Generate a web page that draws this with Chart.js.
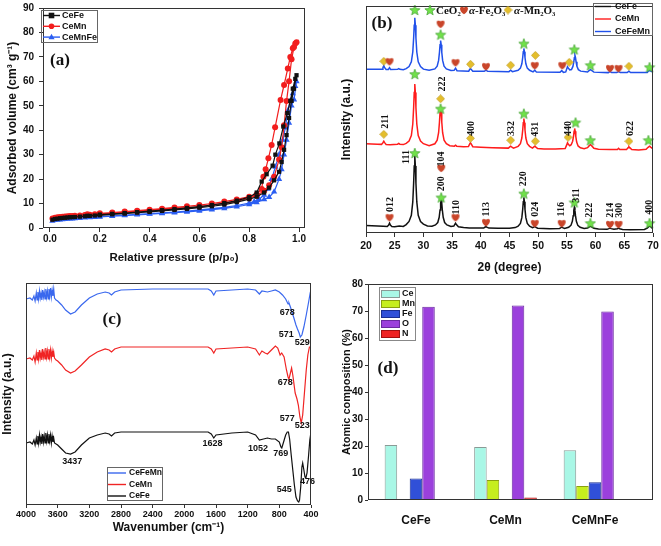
<!DOCTYPE html>
<html>
<head>
<meta charset="utf-8">
<script src="https://cdn.jsdelivr.net/npm/chart.js@4/dist/chart.umd.min.js"></script>
<style>
html, body { margin: 0; padding: 0; background: #fff; }
#wrap { position: relative; width: 661px; height: 546px; overflow: hidden; }
canvas { position: absolute; }
</style>
</head>
<body>
<div id="wrap">
  <canvas id="chartA" width="330" height="270" style="left:0px;top:0px"></canvas>
  <canvas id="chartB" width="331" height="282" style="left:330px;top:0px"></canvas>
  <canvas id="chartC" width="330" height="276" style="left:0px;top:270px"></canvas>
  <canvas id="chartD" width="331" height="276" style="left:330px;top:270px"></canvas>
</div>
<script>
// ---------- (a) N2 isotherms: adsorption branch, then desorption branch
const pTicks = [0, 0.2, 0.4, 0.6, 0.8, 1.0];
const ceFeP = [0.01,0.02,0.03,0.04,0.05,0.06,0.07,0.08,0.09,0.10,0.12,0.14,0.16,0.18,0.20,0.25,0.30,0.35,0.40,0.45,0.50,0.55,0.60,0.65,0.70,0.75,0.80,0.83,0.86,0.88,0.90,0.92,0.93,0.94,0.95,0.96,0.97,0.98,0.99,
  0.985,0.975,0.965,0.953,0.937,0.921,0.905,0.894,0.87,0.85,0.83,0.80,0.75,0.70,0.65,0.60,0.55,0.50,0.45,0.40,0.35,0.30,0.25,0.20,0.15];
const ceFeV = [3.4,3.7,3.8,4.0,4.1,4.2,4.3,4.4,4.45,4.5,4.65,4.8,4.95,5.1,5.2,5.6,5.9,6.3,6.6,7.0,7.4,7.8,8.3,8.9,9.6,10.6,11.8,12.8,14.5,16.5,19.5,23,27,32,38,45,52,57,62.5,
  61,57,52,47,41.5,34.6,30,25.5,22,19,14.5,12.6,11.2,10.2,9.4,8.8,8.2,7.7,7.3,6.9,6.5,6.1,5.8,5.5,5.0];
const ceMnP = [0.01,0.02,0.03,0.04,0.05,0.06,0.07,0.08,0.09,0.10,0.12,0.14,0.16,0.18,0.20,0.25,0.30,0.35,0.40,0.45,0.50,0.55,0.60,0.65,0.70,0.75,0.80,0.83,0.86,0.88,0.90,0.92,0.93,0.94,0.95,0.96,0.97,0.98,0.99,
  0.985,0.975,0.965,0.955,0.94,0.926,0.904,0.89,0.877,0.866,0.857,0.85,0.83,0.80,0.75,0.70,0.65,0.60,0.55,0.50,0.45,0.40,0.35,0.30,0.25,0.20,0.15];
const ceMnV = [3.9,4.2,4.35,4.5,4.6,4.7,4.8,4.9,4.95,5.0,5.15,5.3,5.45,5.6,5.7,6.1,6.4,6.8,7.1,7.5,7.9,8.3,8.8,9.4,10.1,11.0,12.2,13.3,15.2,17.5,21,28,33,42,52,60,69,74,76,
  75.5,73.5,70,65.3,58.5,52.4,41.2,34,28.5,24,21,16,13.8,12.8,11.7,10.8,10.0,9.4,8.9,8.4,7.9,7.5,7.1,6.7,6.3,6.0,5.6];
const ceMnFeP = [0.01,0.02,0.03,0.04,0.05,0.06,0.07,0.08,0.09,0.10,0.12,0.14,0.16,0.18,0.20,0.25,0.30,0.35,0.40,0.45,0.50,0.55,0.60,0.65,0.70,0.75,0.80,0.83,0.86,0.88,0.90,0.92,0.93,0.94,0.95,0.96,0.97,0.98,0.99,
  0.985,0.975,0.965,0.955,0.945,0.935,0.92,0.905,0.89,0.875,0.86,0.84,0.82,0.80,0.75,0.70,0.65,0.60,0.55,0.50,0.45,0.40,0.35,0.30,0.25,0.20,0.15];
const ceMnFeV = [2.9,3.2,3.3,3.4,3.5,3.6,3.7,3.8,3.85,3.9,4.05,4.2,4.3,4.4,4.5,4.8,5.1,5.4,5.7,6.0,6.3,6.6,7.0,7.5,8.0,8.7,9.6,10.5,11.7,12.6,14.8,20,24,30,36,43,50,52.5,60,
  58,55,52,48,41,36,30,25,20,16,13.5,11.8,10.8,10.2,9.2,8.5,7.9,7.4,6.9,6.5,6.2,5.9,5.6,5.3,5.0,4.7,4.4];

// ---------- (b) XRD patterns, [2theta, intensity + stacking offset]
const xrdCeFe = [[20,7.5],[21,7.3],[22,7],[23,6.8],[23.7,6.6],[23.95,8],[24.1,10],[24.25,8],[24.5,6.6],[25,6.4],[25.8,7],[26.5,6.6],[27.0,8.5],[27.5,11.7],[27.9,18],[28.15,31.5],[28.3,50.5],[28.4,68],[28.5,78],[28.6,68],[28.7,50.5],[28.85,31.5],[29.1,18],[29.5,11.7],[30.0,9],[30.7,7.2],[31.5,6.8],[32.1,8.2],[32.5,10.6],[32.75,15.9],[32.9,23.3],[33.0,30.2],[33.1,34],[33.2,30.2],[33.3,23.3],[33.45,15.9],[33.7,10.6],[34.1,8.2],[34.8,6.6],[35.3,7],[35.5,9],[35.6,10],[35.75,8.5],[36.1,6.3],[37,5.5],[38,5],[40.5,5],[40.75,6],[40.9,6.5],[41.05,6],[41.4,5],[43,4.8],[45,4.8],[46.0,5.5],[46.5,6.9],[46.9,9.7],[47.15,15.5],[47.3,23.9],[47.4,31.7],[47.5,36],[47.6,31.7],[47.7,23.9],[47.85,15.5],[48.1,9.7],[48.5,6.9],[49.0,5.3],[49.25,6],[49.4,6.8],[49.55,6],[49.9,4.8],[52,4.4],[53.7,4.5],[53.95,5.5],[54.1,6.2],[54.25,5.5],[54.6,4.6],[55.3,5.8],[55.7,7.7],[55.95,11.8],[56.1,17.6],[56.2,23],[56.3,26],[56.4,23],[56.5,17.6],[56.65,11.8],[56.9,7.7],[57.3,5.8],[58.0,4.6],[58.6,5],[58.9,6.3],[59.1,7],[59.3,6.3],[59.7,4.8],[60.5,4],[62,3.7],[62.3,4.4],[62.5,5],[62.7,4.4],[63.2,3.8],[63.8,4.3],[64.0,5],[64.2,4.3],[64.7,3.6],[66,3.4],[68.5,3.6],[69.0,5],[69.3,6.7],[69.5,7],[69.75,5.5],[70,4.5]];
const xrdCeMn = [[20,90.5],[21,90.3],[22,90],[22.7,89.8],[22.95,91.5],[23.1,93],[23.25,91.5],[23.5,89.7],[24.2,89.5],[25.5,90],[25.7,90.8],[25.9,90],[26.5,89.6],[27.0,90.8],[27.5,93.2],[27.9,98.7],[28.15,110.4],[28.3,127],[28.4,142.4],[28.5,151],[28.6,142.4],[28.7,127],[28.85,110.4],[29.1,98.7],[29.5,93.2],[30,90.5],[31,88.5],[32,90.4],[32.4,94],[32.65,101.6],[32.8,112.4],[32.9,122.4],[33.0,128],[33.1,122.4],[33.2,112.4],[33.35,101.6],[33.6,94],[34.0,90.4],[34.6,88.5],[35.4,88],[35.6,89],[35.8,88],[37,87.5],[37.85,87.6],[38.05,90],[38.2,91.5],[38.35,90],[38.6,87.4],[40,87],[42,86.5],[44.8,86],[45.05,87.3],[45.2,88],[45.35,87.3],[45.7,86],[46.5,87.8],[46.9,90.5],[47.15,96.2],[47.3,104.3],[47.4,111.8],[47.5,116],[47.6,111.8],[47.7,104.3],[47.85,96.2],[48.1,90.5],[48.5,87.8],[49.0,86],[49.25,87.3],[49.4,88],[49.55,87.3],[49.9,85.5],[51,85],[53,85],[54.7,85.5],[54.95,89],[55.1,91.5],[55.25,90],[55.5,88.5],[55.75,89.5],[56.0,93],[56.15,97.8],[56.25,103],[56.35,106],[56.45,103],[56.55,97.8],[56.7,92.1],[56.95,88.2],[57.35,86.3],[58.0,85.3],[58.6,86.5],[58.9,88.5],[59.1,89.5],[59.3,88.5],[59.7,85.8],[60.5,84.8],[62.5,84.5],[63.8,84.6],[64.0,85.8],[64.2,84.6],[65.4,84.6],[65.65,86.5],[65.8,87.5],[65.95,86.5],[66.3,84.5],[67.5,84.2],[68.8,84.8],[69.15,86.8],[69.4,88],[69.65,86.8],[70,85.3]];
const xrdCeFeMn = [[20,166],[21,166],[22,165.8],[22.8,165.8],[22.95,167.5],[23.1,169.5],[23.25,167.5],[23.5,165.7],[23.9,165.7],[24.1,167.5],[24.3,165.6],[25.5,165.8],[25.7,166.6],[25.9,165.8],[26.5,165.5],[27.0,166.5],[27.5,168.7],[27.9,173.4],[28.15,183.4],[28.3,197.5],[28.4,210.6],[28.5,218],[28.6,210.6],[28.7,197.5],[28.85,183.4],[29.1,173.4],[29.5,168.7],[30,166],[31,164.8],[32,166.3],[32.4,169.1],[32.65,174.9],[32.8,183.1],[32.9,190.7],[33.0,195],[33.1,190.7],[33.2,183.1],[33.35,174.9],[33.6,169.1],[34,166.3],[34.8,164.6],[35.35,164.8],[35.6,167],[35.85,164.5],[37.9,164],[38.05,165.6],[38.2,166.5],[38.35,165.6],[38.6,164],[40.6,163.8],[40.9,165],[41.2,163.8],[44.9,163.5],[45.2,165],[45.5,163.5],[46.5,164.9],[46.9,167],[47.15,171.5],[47.3,177.8],[47.4,183.7],[47.5,187],[47.6,183.7],[47.7,177.8],[47.85,171.5],[48.1,167],[48.5,164.9],[49.1,163.2],[49.4,165],[49.7,163],[53.8,162.8],[54.1,164.5],[54.4,162.8],[54.8,163.2],[54.95,166],[55.1,168.5],[55.25,167],[55.5,165.3],[55.8,165.5],[56.05,168.8],[56.2,173.4],[56.3,177.6],[56.4,180],[56.5,177.6],[56.6,173.4],[56.75,168.8],[57.0,165.5],[57.4,164],[58.6,163.2],[58.9,164.8],[59.1,165.5],[59.3,164.8],[59.7,163],[62.2,162.5],[62.5,163.5],[62.8,162.5],[63.7,162.5],[64,163.5],[64.3,162.5],[65.5,162.5],[65.8,164],[66.1,162.5],[69,162.6],[69.2,164],[69.4,164.5],[69.6,164],[70,163]];
// phase markers
const starCeO2 = [[28.5,226],[33.0,201],[47.5,192],[56.3,186],[59.1,170],[69.4,168],
  [28.5,161],[33.0,126],[47.5,121],[56.5,112],[59.1,94],[69.2,94],
  [28.5,81],[33.1,36],[47.5,40],[56.3,31],[59.1,10],[69.4,10]];
const heartFe2O3 = [[24.1,174],[33.0,212],[35.6,173],[40.9,169],[49.4,170],[54.2,170],[62.5,167],[64.0,167],
  [24.1,16],[33.1,66],[35.6,16],[40.9,11],[49.4,10],[54.1,10],[62.5,9],[64.0,9]];
const diamondMn2O3 = [[23.1,174],[38.2,171],[45.2,170],[49.5,180],[55.4,173],[65.8,169],
  [23.1,100],[33.0,136],[38.2,96],[45.2,94],[49.5,93],[55.2,97],[65.8,93]];
const hklLabels = [[23.3,113,'211'],[33.4,151,'222'],[38.4,106,'400'],[45.4,106,'332'],[49.6,105,'431'],[55.2,106,'440'],[66.0,106,'622'],
  [27.1,77,'111'],[33.2,75,'104'],[33.2,50,'200'],[24.2,29,'012'],[35.7,26,'110'],[41.0,24,'113'],[47.5,55,'220'],[49.6,24,'024'],
  [54.1,24,'116'],[56.6,38,'311'],[59.0,23,'222'],[62.5,23,'214'],[64.1,23,'300'],[69.4,26,'400']];

// ---------- (c) FTIR spectra, [wavenumber, transmittance + offset]
const ftirCeFeMn = [[4000,206],[3950,207],[3920,205],[3900,209],[3885,204],[3870,212],[3860,205],[3850,213],[3840,206],[3830,214],[3820,207],[3810,212],[3800,205],[3790,215],[3780,208],[3770,213],[3760,206],[3750,216],[3740,208],[3730,214],[3720,206],[3710,216],[3700,209],[3690,217],[3680,208],[3670,215],[3660,209],[3650,216],[3640,207],[3620,205],[3600,204],[3550,200],[3500,195],[3437,191],[3380,193],[3300,200],[3200,207],[3100,211],[3000,213],[2950,212],[2920,210],[2880,213],[2800,215],[2400,216],[2000,216],[1700,216],[1660,214],[1628,210],[1600,214],[1400,215],[1200,216],[1100,215],[1052,211],[1020,214],[950,213],[900,214],[850,215],[800,213],[760,210],[720,206],[690,201],[678,202],[660,198],[620,188],[590,180],[571,176],[550,172],[535,168],[515,170],[490,178],[460,190],[430,203],[410,212],[400,215]];
const ftirCeMn = [[4000,146],[3950,147],[3920,145],[3900,149],[3885,143],[3870,152],[3860,145],[3850,153],[3840,146],[3830,155],[3820,147],[3810,152],[3800,145],[3790,156],[3780,148],[3770,153],[3760,146],[3750,157],[3740,148],[3730,154],[3720,146],[3710,156],[3700,148],[3690,155],[3680,147],[3670,154],[3660,148],[3650,153],[3640,147],[3620,145],[3600,144],[3550,140],[3500,135],[3437,132],[3380,134],[3300,140],[3200,148],[3100,153],[3000,156],[2950,155],[2920,153],[2880,156],[2800,158],[2400,158],[2000,158],[1700,158],[1660,156],[1628,152],[1600,156],[1400,157],[1200,158],[1100,156],[1052,150],[1020,154],[980,152],[950,151],[900,155],[850,159],[820,157],[790,150],[770,152],[740,148],[710,135],[690,128],[678,126],[660,132],[645,137],[630,130],[600,112],[577,106],[560,100],[540,88],[523,82],[505,90],[485,110],[460,135],[440,150],[420,158],[400,158]];
const ftirCeFe = [[4000,62],[3950,63],[3920,61],[3900,65],[3885,60],[3870,67],[3860,61],[3850,69],[3840,62],[3830,70],[3820,63],[3810,68],[3800,61],[3790,71],[3780,63],[3770,69],[3760,62],[3750,72],[3740,64],[3730,70],[3720,62],[3710,71],[3700,64],[3690,70],[3680,62],[3670,69],[3660,63],[3650,67],[3640,62],[3620,61],[3600,60],[3550,56],[3500,52],[3437,51],[3380,53],[3300,60],[3200,67],[3100,70],[3000,72],[2950,71],[2920,69],[2880,72],[2800,73],[2400,73],[2000,73],[1700,73],[1660,71],[1628,67],[1600,70],[1500,71],[1400,72],[1200,73],[1100,70],[1052,65],[1000,66],[950,67],[900,66],[850,66],[800,63],[780,58],[769,57],[750,62],[720,70],[700,73],[685,73],[670,66],[650,50],[630,35],[610,20],[590,8],[570,4],[555,3],[545,5],[530,18],[515,38],[505,42],[490,35],[476,28],[465,27],[450,32],[430,50],[415,65],[400,73]];
const bandLabels = [[700,192,'678'],[713,170,'571'],[510,162,'529'],[726,122,'678'],[700,86,'577'],[510,79,'523'],
  [3417,43,'3437'],[1643,61,'1628'],[1068,56,'1052'],[782,51,'769'],[738,15,'545'],[443,23,'476']];

// ---------- (d) atomic composition (%)
const samples = ['CeFe', 'CeMn', 'CeMnFe'];
const elements = ['Ce', 'Mn', 'Fe', 'O', 'N'];
const ceComp = [20.4, 19.6, 18.4];
const mnComp = [null, 7.4, 5.2];
const feComp = [8.0, null, 6.6];
const oComp = [71.6, 72.0, 69.8];
const nComp = [null, 0.9, null];

// ---------- shared look
const sans = '"Liberation Sans", Arial, sans-serif';
const serif = '"Liberation Serif", "Times New Roman", serif';
Chart.defaults.font.family = sans;
Chart.defaults.font.weight = 'bold';
Chart.defaults.color = '#111';
Chart.defaults.animation = false;
Chart.defaults.plugins.legend.display = false;
Chart.defaults.plugins.tooltip.enabled = false;

const pts = arr => arr.map(([x, y]) => ({x, y}));
const zip = (xs, ys) => xs.map((x, i) => ({x, y: ys[i]}));

// force axis sizes so the plot boxes land where the figure has them
const fixY = w => s => { s.width = w; s.paddingTop = 0; s.paddingBottom = 0; };
const fixX = h => s => { s.height = h; s.paddingLeft = 0; s.paddingRight = 0; };
const tickGrid = len => ({ display: len > 0, drawOnChartArea: false, drawTicks: len > 0, tickLength: len, color: '#333' });

Chart.register({
  id: 'frame',
  afterDatasetsDraw(chart) {
    const a = chart.chartArea, c = chart.ctx;
    c.save();
    c.strokeStyle = '#333';
    c.lineWidth = 1;
    c.strokeRect(a.left + 0.5, a.top + 0.5, a.right - a.left - 1, a.bottom - a.top - 1);
    c.restore();
  }
});

function drawMark(c, style, x, y, r, color) {
  c.fillStyle = color;
  c.beginPath();
  if (style === 'rect') c.rect(x - r, y - r, 2 * r, 2 * r);
  else if (style === 'triangle') { c.moveTo(x, y - r * 1.2); c.lineTo(x + r * 1.1, y + r * 0.8); c.lineTo(x - r * 1.1, y + r * 0.8); c.closePath(); }
  else c.arc(x, y, r, 0, Math.PI * 2);
  c.fill();
}

function lineLegend(c, box, rows, font) {
  c.save();
  c.strokeStyle = '#666';
  c.lineWidth = 1;
  c.strokeRect(box[0] + 0.5, box[1] + 0.5, box[2], box[3]);
  c.font = font;
  c.textAlign = 'left';
  c.textBaseline = 'middle';
  rows.forEach(r => {
    c.strokeStyle = r.color;
    c.lineWidth = 1.4;
    c.beginPath(); c.moveTo(r.x0, r.y); c.lineTo(r.x1, r.y); c.stroke();
    if (r.mark) drawMark(c, r.mark, (r.x0 + r.x1) / 2, r.y, 2.8, r.color);
    c.fillStyle = '#111';
    c.fillText(r.text, r.tx, r.y);
  });
  c.restore();
}

function panelLabel(c, text, x, y) {
  c.save();
  c.font = 'bold 17px ' + serif;
  c.fillStyle = '#111';
  c.textAlign = 'center';
  c.textBaseline = 'middle';
  c.fillText(text, x, y);
  c.restore();
}

// marker icons for the phases
function makeIcon(size, draw) {
  const cv = document.createElement('canvas');
  cv.width = size; cv.height = size;
  draw(cv.getContext('2d'), size);
  return cv;
}
const starIcon = makeIcon(12, (g, s) => {
  g.beginPath();
  for (let i = 0; i < 10; i++) {
    const r = i % 2 ? 2.3 : 5.4;
    const a = -Math.PI / 2 + i * Math.PI / 5;
    g.lineTo(s / 2 + r * Math.cos(a), s / 2 + 0.5 + r * Math.sin(a));
  }
  g.closePath();
  g.fillStyle = '#72e24a'; g.fill();
  g.strokeStyle = '#3c9e2c'; g.lineWidth = 0.7; g.stroke();
});
const heartIcon = makeIcon(10, (g, s) => {
  const cx = s / 2;
  g.beginPath();
  g.moveTo(cx, s - 0.8);
  g.bezierCurveTo(cx - 6, s - 4.5, cx - 4.5, -0.5, cx, 2.6);
  g.bezierCurveTo(cx + 4.5, -0.5, cx + 6, s - 4.5, cx, s - 0.8);
  g.fillStyle = '#c9452a'; g.fill();
});
const diamondIcon = makeIcon(9, (g, s) => {
  g.beginPath();
  g.moveTo(s / 2, 0.5); g.lineTo(s - 0.5, s / 2); g.lineTo(s / 2, s - 0.5); g.lineTo(0.5, s / 2); g.closePath();
  g.fillStyle = '#e4be2c'; g.fill();
  g.strokeStyle = '#b8931a'; g.lineWidth = 0.6; g.stroke();
});

// ================= (a)
const isoSet = (label, xs, ys, color, style, r) => ({
  label, data: zip(xs, ys), borderColor: color, backgroundColor: color,
  borderWidth: 1.2, pointStyle: style, pointRadius: r, pointBorderWidth: 0, pointBackgroundColor: color
});
new Chart(document.getElementById('chartA'), {
  type: 'line',
  data: { datasets: [
    isoSet('CeFe', ceFeP, ceFeV, '#111111', 'rect', 3),
    isoSet('CeMn', ceMnP, ceMnV, '#f21d1d', 'circle', 3),
    isoSet('CeMnFe', ceMnFeP, ceMnFeV, '#2b5ef2', 'triangle', 3.6)
  ]},
  options: {
    responsive: false,
    layout: { padding: { left: 0, top: 8, right: 25, bottom: 0 } },
    scales: {
      x: {
        type: 'linear', min: -0.028, max: 1.024,
        afterFit: fixX(42),
        afterBuildTicks: s => { s.ticks = pTicks.map(v => ({ value: v })); },
        grid: tickGrid(4), border: { display: false },
        ticks: { font: { size: 10 }, padding: 1, maxRotation: 0, callback: v => v.toFixed(1) },
        title: { display: true, text: 'Relative pressure (p/p₀)', font: { size: 11.5 }, padding: { top: 0, bottom: 5 } }
      },
      y: {
        min: 0, max: 90,
        afterFit: fixY(43),
        grid: tickGrid(4), border: { display: false },
        ticks: { stepSize: 10, font: { size: 10 }, padding: 5 },
        title: { display: true, text: 'Adsorbed volume (cm³ g⁻¹)', font: { size: 12 }, padding: { top: 5, bottom: 0 } }
      }
    }
  },
  plugins: [{
    id: 'extrasA',
    afterDraw(chart) {
      const c = chart.ctx;
      panelLabel(c, '(a)', 60, 61);
      lineLegend(c, [41, 10, 56, 32], chart.data.datasets.map((d, i) => ({
        text: d.label, color: d.borderColor, mark: d.pointStyle, y: 15.5 + i * 10.8, x0: 43, x1: 60, tx: 62
      })), 'bold 9px ' + sans);
    }
  }]
});

// ================= (b)
const xrdLine = (label, arr, color) => ({ label, data: pts(arr), borderColor: color, borderWidth: 1.5, pointRadius: 0, order: 2 });
const markSet = (arr, icon) => ({ data: pts(arr), showLine: false, pointStyle: icon, pointRadius: 5, clip: false, order: 0 });
new Chart(document.getElementById('chartB'), {
  type: 'line',
  data: { datasets: [
    xrdLine('CeFe', xrdCeFe, '#111111'),
    xrdLine('CeMn', xrdCeMn, '#ff1c1c'),
    xrdLine('CeFeMn', xrdCeFeMn, '#2050ea'),
    markSet(starCeO2, starIcon),
    markSet(heartFe2O3, heartIcon),
    markSet(diamondMn2O3, diamondIcon)
  ]},
  options: {
    responsive: false,
    layout: { padding: { left: 0, top: 3, right: 8, bottom: 0 } },
    scales: {
      x: {
        type: 'linear', min: 20, max: 70,
        afterFit: fixX(49),
        grid: tickGrid(4), border: { display: false },
        ticks: { stepSize: 5, font: { size: 10.5 }, padding: 3, maxRotation: 0 },
        title: { display: true, text: '2θ (degree)', font: { size: 12 }, padding: { top: 0, bottom: 7 } }
      },
      y: {
        min: 0, max: 230,
        afterFit: fixY(36),
        grid: { display: false }, border: { display: false },
        ticks: { display: false },
        title: { display: true, text: 'Intensity (a.u.)', font: { size: 12 }, padding: { top: 9, bottom: 0 } }
      }
    }
  },
  plugins: [{
    id: 'extrasB',
    afterDraw(chart) {
      const c = chart.ctx, sx = chart.scales.x, sy = chart.scales.y;
      c.save();
      c.font = 'bold 10px ' + serif;
      c.fillStyle = '#111';
      c.textAlign = 'center';
      c.textBaseline = 'middle';
      hklLabels.forEach(([t, v, s]) => {
        c.save();
        c.translate(sx.getPixelForValue(t), sy.getPixelForValue(v));
        c.rotate(-Math.PI / 2);
        c.fillText(s, 0, 0);
        c.restore();
      });
      // phase key along the top
      const ky = 10;
      c.drawImage(starIcon, 100 - 6, ky - 6);
      c.drawImage(heartIcon, 134 - 5, ky - 5);
      c.drawImage(diamondIcon, 178 - 4.5, ky - 4.5);
      c.textAlign = 'left';
      c.font = 'bold 11px ' + serif;
      c.fillText('CeO₂', 106, ky + 1);
      c.font = 'italic bold 11px ' + serif;
      c.fillText('α', 139, ky + 1);
      c.fillText('α', 184, ky + 1);
      c.font = 'bold 11px ' + serif;
      c.fillText('-Fe₂O₃', 145, ky + 1);
      c.fillText('-Mn₂O₃', 190, ky + 1);
      c.restore();
      panelLabel(c, '(b)', 52, 24);
      const ds = chart.data.datasets;
      lineLegend(c, [263, 3, 59, 32], [0, 1, 2].map((i, k) => ({
        text: ds[i].label, color: ds[i].borderColor, y: [6.5, 19, 31.5][k], x0: 265, x1: 281, tx: 285
      })), 'bold 9px ' + sans);
    }
  }]
});

// ================= (c)
const ftirLine = (label, arr, color) => ({ label, data: pts(arr), borderColor: color, borderWidth: 1.2, pointRadius: 0 });
new Chart(document.getElementById('chartC'), {
  type: 'line',
  data: { datasets: [
    ftirLine('CeFeMn', ftirCeFeMn, '#3a68ee'),
    ftirLine('CeMn', ftirCeMn, '#f02424'),
    ftirLine('CeFe', ftirCeFe, '#111111')
  ]},
  options: {
    responsive: false,
    layout: { padding: { left: 0, top: 13, right: 19, bottom: 0 } },
    scales: {
      x: {
        type: 'linear', min: 400, max: 4000, reverse: true,
        afterFit: fixX(41),
        grid: tickGrid(3), border: { display: false },
        ticks: { stepSize: 400, font: { size: 9 }, padding: 1, maxRotation: 0, callback: v => String(v) },
        title: { display: true, text: 'Wavenumber (cm⁻¹)', font: { size: 12 }, padding: { top: 0, bottom: 11 } }
      },
      y: {
        min: 0, max: 222,
        afterFit: fixY(26),
        grid: { display: false }, border: { display: false },
        ticks: { display: false },
        title: { display: true, text: 'Intensity (a.u.)', font: { size: 12 }, padding: { top: 0, bottom: 0 } }
      }
    }
  },
  plugins: [{
    id: 'extrasC',
    afterDraw(chart) {
      const c = chart.ctx, sx = chart.scales.x, sy = chart.scales.y;
      c.save();
      c.font = 'bold 9px ' + sans;
      c.fillStyle = '#111';
      c.textAlign = 'center';
      c.textBaseline = 'middle';
      bandLabels.forEach(([w, v, s]) => c.fillText(s, sx.getPixelForValue(w), sy.getPixelForValue(v)));
      c.restore();
      panelLabel(c, '(c)', 112, 50);
      lineLegend(c, [107, 197, 55, 33], chart.data.datasets.map((d, i) => ({
        text: d.label, color: d.borderColor, y: 203 + i * 11.5, x0: 108, x1: 126, tx: 129
      })), 'bold 8.5px ' + sans);
    }
  }]
});

// ================= (d)
const elColors = ['#a9f7e6', '#c6ee1e', '#3050d8', '#9b40dc', '#ee2222'];
const elBorders = ['#8a9a96', '#8aa010', '#1a2f90', '#6a2aa0', '#a01010'];
const comps = [ceComp, mnComp, feComp, oComp, nComp];
new Chart(document.getElementById('chartD'), {
  type: 'bar',
  data: { datasets: elements.map((el, k) => ({
    label: el,
    data: samples.map((s, i) => ({ x: i + 1, y: comps[k][i] })),
    backgroundColor: elColors[k], borderColor: elBorders[k], borderWidth: 1,
    categoryPercentage: 0.7, barPercentage: 1
  }))},
  options: {
    responsive: false,
    layout: { padding: { left: 0, top: 14, right: 8, bottom: 0 } },
    scales: {
      x: {
        type: 'linear', min: 0.464, max: 3.648, offset: false,
        afterFit: fixX(46),
        afterBuildTicks: s => { s.ticks = samples.map((n, i) => ({ value: i + 1 })); },
        grid: { display: false, offset: false }, border: { display: false },
        ticks: { font: { size: 12 }, padding: 5, maxRotation: 0, callback: v => samples[v - 1] }
      },
      y: {
        min: 0, max: 80,
        afterFit: fixY(38),
        grid: tickGrid(3), border: { display: false },
        ticks: { stepSize: 10, font: { size: 10 }, padding: 2 },
        title: { display: true, text: 'Atomic composition (%)', font: { size: 11 }, padding: { top: 10, bottom: 0 } }
      }
    }
  },
  plugins: [{
    id: 'extrasD',
    afterDraw(chart) {
      const c = chart.ctx;
      panelLabel(c, '(d)', 58, 99);
      c.save();
      c.strokeStyle = '#888';
      c.lineWidth = 1;
      c.strokeRect(49.5, 17.5, 36, 53);
      c.font = 'bold 9px ' + sans;
      c.textAlign = 'left';
      c.textBaseline = 'middle';
      elements.forEach((el, k) => {
        const y = 24 + k * 10;
        c.fillStyle = elColors[k];
        c.fillRect(51, y - 4, 19, 8);
        c.strokeStyle = elBorders[k];
        c.strokeRect(51.5, y - 3.5, 18, 7);
        c.fillStyle = '#111';
        c.fillText(el, 72, y);
      });
      c.restore();
    }
  }]
});
</script>
</body>
</html>
